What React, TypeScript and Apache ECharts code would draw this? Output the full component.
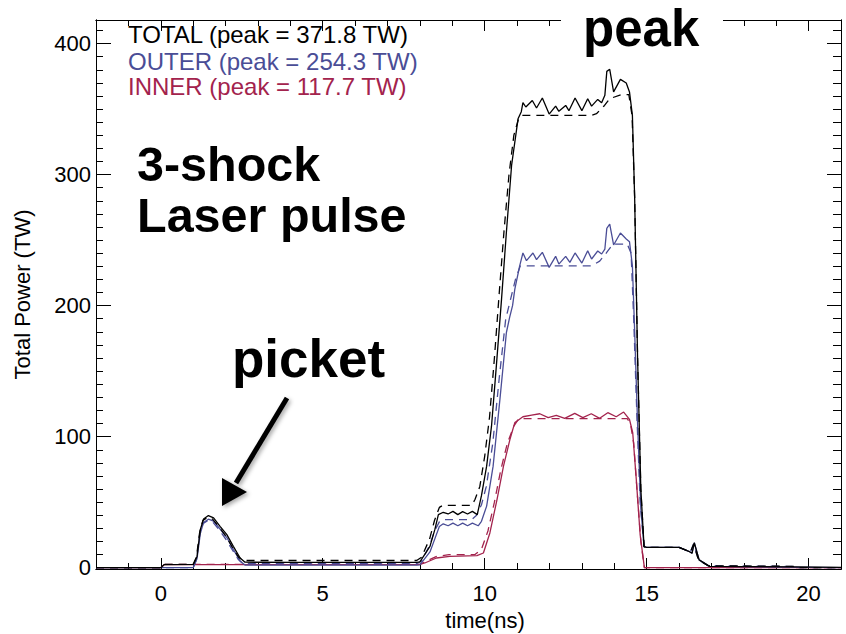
import React, { useEffect, useRef } from "react";
import * as echarts from "echarts";

// ---- data: [time (ns), power (TW)] ----
const totalMeasured: number[][] = [
  [-2, 0], [0, 0], [0.1, 2.3], [1.0, 2.5], [1.12, 8.6], [1.22, 29], [1.32, 37.2], [1.47, 39.8], [1.63, 38],
  [1.83, 31.6], [2.04, 25.2], [2.24, 16.3], [2.45, 7.4], [2.6, 4.2], [4, 4], [6, 4], [7.9, 4], [8.0, 4.5],
  [8.31, 16.3], [8.46, 29], [8.57, 40.5], [8.72, 42.3], [8.87, 41], [9.02, 43], [9.17, 40.5], [9.32, 42.8],
  [9.47, 41], [9.62, 43], [9.77, 40.5], [9.9, 55], [10.06, 77.5], [10.21, 108], [10.36, 154], [10.52, 205],
  [10.67, 256], [10.83, 307], [11.03, 342.6], [11.13, 348], [11.18, 354.9], [11.27, 351.6], [11.47, 356.6],
  [11.6, 350.8], [11.78, 358.5], [11.99, 346.2], [12.19, 352.3], [12.29, 348.3], [12.5, 352.8], [12.6, 348.8],
  [12.79, 358.5], [13.0, 348.8], [13.18, 357.9], [13.3, 352.3], [13.49, 357.4], [13.61, 354.9], [13.71, 360.5],
  [13.77, 378.8], [13.86, 380.4], [13.98, 363.1], [14.19, 372.7], [14.37, 369.9], [14.47, 363.1], [14.56, 345.2],
  [14.63, 282], [14.72, 160], [14.82, 60], [14.92, 16], [15.0, 15.5], [16.0, 15.5], [16.3, 12.5], [16.4, 11],
  [16.47, 19], [16.62, 6], [16.94, 1], [19.5, 0.6], [21, 0.3],
];
const totalRequested: number[][] = [
  [-2, 0], [0, 0], [0.1, 2.5], [1.0, 2.5], [1.1, 8], [1.2, 27], [1.3, 36], [1.45, 38.5], [1.6, 37], [1.8, 31],
  [2.0, 24.5], [2.2, 16], [2.4, 8], [2.55, 5.5], [4, 5.5], [7.9, 5.5], [8.05, 8], [8.3, 22], [8.45, 36], [8.6, 46],
  [8.7, 47.5], [9.6, 47.5], [9.7, 52], [9.85, 62], [10.0, 85], [10.15, 115], [10.3, 160], [10.45, 210],
  [10.6, 258], [10.75, 300], [10.9, 330], [11.05, 343], [11.15, 345.2], [13.3, 345.2], [13.45, 346.5],
  [13.7, 352.8], [13.86, 358], [14.22, 361], [14.45, 361], [14.55, 345], [14.63, 282], [14.72, 160], [14.82, 60],
  [14.92, 16], [15.0, 15.5], [16.0, 15.5], [16.35, 12], [16.45, 18], [16.6, 6], [16.9, 1.5], [19.6, 1], [19.7, 0], [21, 0],
];
const outerMeasured: number[][] = [
  [-2, 0], [1.0, 0], [1.12, 7], [1.22, 26], [1.32, 34.5], [1.47, 37], [1.63, 35.5], [1.83, 29.5], [2.04, 23],
  [2.24, 14], [2.45, 5], [2.6, 2], [7.9, 2], [8.0, 2.2], [8.31, 12], [8.46, 22], [8.6, 31.5], [8.72, 33.5],
  [8.87, 32], [9.02, 34], [9.17, 32], [9.32, 34], [9.47, 32], [9.62, 34], [9.8, 32], [9.9, 35.4], [10.06, 47],
  [10.26, 77.5], [10.47, 128.5], [10.67, 179.5], [10.77, 191], [10.86, 200], [10.93, 212.6], [11.08, 230.4],
  [11.18, 240.2], [11.29, 234.3], [11.49, 240.2], [11.6, 235.1], [11.78, 240.7], [11.99, 229.2], [12.19, 237.6],
  [12.29, 231.7], [12.5, 237.6], [12.63, 233], [12.79, 240.2], [13.0, 232.5], [13.18, 241.9], [13.3, 235.6],
  [13.49, 241.7], [13.61, 239.4], [13.71, 243.2], [13.77, 259], [13.86, 262.3], [13.98, 246.3], [14.19, 255.4],
  [14.37, 250.9], [14.47, 248.8], [14.56, 230.4], [14.63, 180], [14.72, 110], [14.82, 45], [14.92, 16],
  [15.0, 15.5], [16.0, 15.5], [16.3, 12.5], [16.4, 11], [16.47, 19], [16.62, 6], [16.94, 1], [19.5, 0.5], [21, 0],
];
const outerRequested: number[][] = [
  [-2, 0], [1.0, 0], [1.1, 6], [1.2, 25], [1.3, 33.5], [1.45, 36], [1.6, 35], [1.8, 29], [2.0, 22], [2.2, 14],
  [2.4, 6], [2.55, 3], [7.9, 3], [8.05, 5], [8.3, 17], [8.45, 28], [8.6, 35], [8.7, 36.7], [9.6, 36.7],
  [9.75, 40], [9.9, 48], [10.05, 62], [10.25, 95], [10.45, 145], [10.65, 190], [10.8, 205], [10.95, 220],
  [11.1, 230.4], [13.3, 230.4], [13.55, 234], [13.75, 240], [13.96, 247], [14.4, 247], [14.52, 240],
  [14.6, 190], [14.7, 115], [14.8, 50], [14.92, 16], [15.0, 15.5], [16.0, 15.5], [16.35, 12], [16.45, 18],
  [16.6, 6], [16.9, 1.5], [19.6, 1], [19.7, 0], [21, 0],
];
const innerMeasured: number[][] = [
  [-2, 0], [0, 0], [0.1, 2.3], [7.9, 2.3], [8.0, 2.5], [8.15, 3.6], [8.51, 7.4], [8.92, 8.7], [9.76, 9.2],
  [9.96, 11.2], [10.16, 26.5], [10.38, 52], [10.58, 77.5], [10.78, 98], [10.93, 110.7], [11.0, 112],
  [11.18, 115.2], [11.45, 116.5], [11.7, 117.5], [11.96, 114.5], [12.21, 116.2], [12.47, 114], [12.78, 117.8],
  [13.03, 114.5], [13.29, 117.5], [13.55, 114], [13.8, 118.3], [14.06, 115.2], [14.29, 118.8], [14.47, 113.2],
  [14.57, 103], [14.68, 67.3], [14.8, 25], [14.93, 0], [21, 0],
];
const innerRequested: number[][] = [
  [-2, 0], [0, 0], [0.1, 2.5], [8.0, 2.5], [8.2, 5], [8.5, 8.5], [8.9, 10], [9.7, 10], [9.9, 14], [10.1, 28],
  [10.3, 50], [10.5, 75], [10.7, 95], [10.9, 108], [11.05, 113.7], [14.4, 113.7], [14.5, 110], [14.6, 95],
  [14.7, 60], [14.82, 20], [14.93, 0], [21, 0],
];

const xMajorTicks = [0, 5, 10, 15, 20];
const xMinorTicks = [-2, -1, 1, 2, 3, 4, 6, 7, 8, 9, 11, 12, 13, 14, 16, 17, 18, 19, 21];
const yMajorTicks = [0, 100, 200, 300, 400];
const yMinorTicks = [
  10, 20, 30, 40, 50, 60, 70, 80, 90, 110, 120, 130, 140, 150, 160, 170, 180, 190, 210, 220, 230, 240, 250,
  260, 270, 280, 290, 310, 320, 330, 340, 350, 360, 370, 380, 390, 410,
];
const legendLines = [
  "TOTAL (peak = 371.8 TW)",
  "OUTER (peak = 254.3 TW)",
  "INNER (peak = 117.7 TW)",
];

const FONT = "'Liberation Sans', Arial, Helvetica, sans-serif";
const BLACK = "#000000";
const BLUE = "#4a4d96";
const RED = "#a3234d";
const X_MIN = -2;
const X_MAX = 21;
const Y_MIN = -1;
const Y_MAX = 418;

function xAxisDef(position: string, ticks: number[], len: number, labels: boolean) {
  return {
    type: "value",
    position,
    min: X_MIN,
    max: X_MAX,
    axisLine: { show: true, onZero: false, lineStyle: { color: BLACK, width: 1 } },
    axisTick: { show: true, inside: true, length: len, customValues: ticks, lineStyle: { color: BLACK, width: 1 } },
    axisLabel: labels
      ? { show: true, customValues: ticks, fontSize: 22, color: BLACK, fontFamily: FONT, margin: 13 }
      : { show: false },
    splitLine: { show: false },
  };
}
function yAxisDef(position: string, ticks: number[], len: number, labels: boolean, extra: any = {}) {
  return {
    type: "value",
    position,
    min: Y_MIN,
    max: Y_MAX,
    axisLine: { show: true, onZero: false, lineStyle: { color: BLACK, width: 1 } },
    axisTick: { show: true, inside: true, length: len, customValues: ticks, lineStyle: { color: BLACK, width: 1 } },
    axisLabel: labels
      ? { show: true, customValues: ticks, fontSize: 22, color: BLACK, fontFamily: FONT, margin: 5 }
      : { show: false },
    splitLine: { show: false },
    ...extra,
  };
}

function lineSeries(name: string, data: number[][], color: string, dashed: boolean, z: number) {
  return {
    name,
    type: "line",
    xAxisIndex: 0,
    yAxisIndex: 0,
    data,
    showSymbol: false,
    symbol: "none",
    z,
    lineStyle: { color, width: 1.3, type: dashed ? [8, 6] : "solid" },
  };
}

export default function App() {
  const ref = useRef<HTMLDivElement>(null);
  useEffect(() => {
    if (!ref.current) return;
    const chart = echarts.init(ref.current, undefined, { renderer: "svg" });
    const boldText = (text: string, x: number, y: number, size: number) => ({
      type: "text",
      x,
      y,
      z: 200,
      style: { text, fill: BLACK, font: `bold ${size}px ${FONT}`, textAlign: "left", textVerticalAlign: "middle" },
    });
    const legendText = (text: string, y: number, fill: string) => ({
      type: "text",
      x: 128,
      y,
      z: 200,
      style: { text, fill, font: `24px ${FONT}`, textVerticalAlign: "middle" },
    });
    chart.setOption({
      animation: false,
      backgroundColor: "#ffffff",
      grid: { left: 96, right: 5, top: 20, bottom: 65, containLabel: false },
      xAxis: [
        xAxisDef("bottom", xMajorTicks, 11, true),
        xAxisDef("bottom", xMinorTicks, 6, false),
        xAxisDef("top", xMajorTicks, 11, false),
        xAxisDef("top", xMinorTicks, 6, false),
      ],
      yAxis: [
        yAxisDef("left", yMajorTicks, 15, true, {
          name: "Total Power (TW)",
          nameLocation: "middle",
          nameGap: 63,
          nameTextStyle: { fontSize: 22, color: BLACK, fontFamily: FONT },
        }),
        yAxisDef("left", yMinorTicks, 7, false),
        yAxisDef("right", yMajorTicks, 14, false),
        yAxisDef("right", yMinorTicks, 8, false),
      ],
      series: [
        lineSeries("INNER requested", innerRequested, RED, true, 2),
        lineSeries("INNER", innerMeasured, RED, false, 3),
        lineSeries("OUTER requested", outerRequested, BLUE, true, 4),
        lineSeries("OUTER", outerMeasured, BLUE, false, 5),
        lineSeries("TOTAL requested", totalRequested, BLACK, true, 6),
        lineSeries("TOTAL", totalMeasured, BLACK, false, 7),
      ],
      graphic: [
        legendText(legendLines[0], 34, BLACK),
        legendText(legendLines[1], 61, BLUE),
        legendText(legendLines[2], 86, RED),
        {
          type: "text",
          x: 485,
          y: 620,
          z: 200,
          style: {
            text: "time(ns)",
            fill: BLACK,
            font: `22px ${FONT}`,
            textAlign: "center",
            textVerticalAlign: "middle",
          },
        },
        { type: "rect", z: 150, shape: { x: 561, y: 0, width: 162, height: 38 }, style: { fill: "#ffffff" } },
        boldText("peak", 583, 28, 51),
        boldText("3-shock", 137, 164, 48.5),
        boldText("Laser pulse", 137, 215, 48.5),
        boldText("picket", 232, 358, 53),
        {
          type: "line",
          z: 180,
          shape: { x1: 287, y1: 398, x2: 236, y2: 483 },
          style: {
            stroke: BLACK,
            lineWidth: 5,
            shadowBlur: 4,
            shadowColor: "rgba(0,0,0,0.35)",
            shadowOffsetX: 2,
            shadowOffsetY: 2,
          },
        },
        {
          type: "polygon",
          z: 181,
          shape: { points: [[222, 506], [247, 492], [222, 478]] },
          style: {
            fill: BLACK,
            shadowBlur: 4,
            shadowColor: "rgba(0,0,0,0.35)",
            shadowOffsetX: 2,
            shadowOffsetY: 2,
          },
        },
      ],
    });
    return () => chart.dispose();
  }, []);
  return (
    <div
      ref={ref}
      style={{ position: "absolute", left: 0, top: 0, width: 846, height: 634, background: "#ffffff" }}
    />
  );
}
